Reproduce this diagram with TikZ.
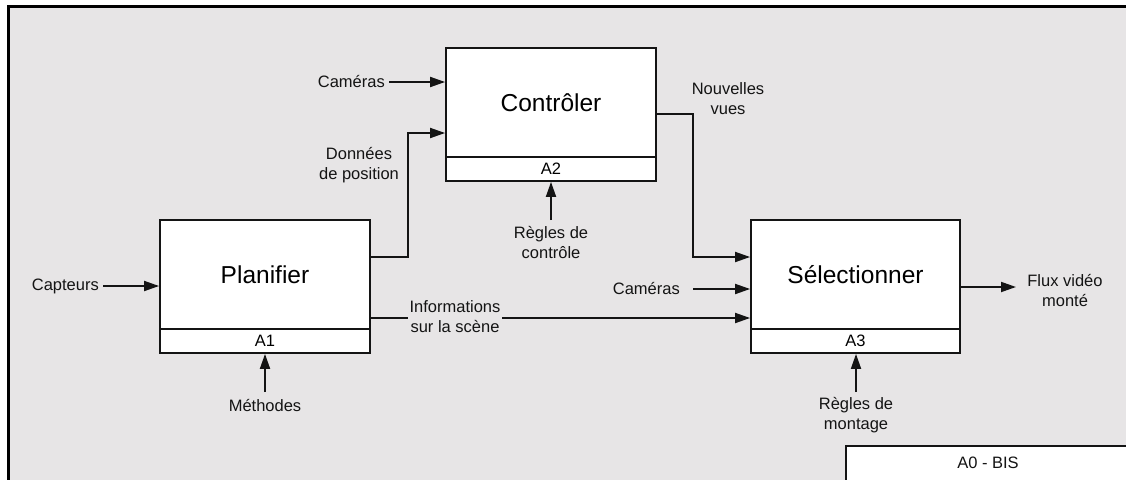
\documentclass[tikz,border=0pt]{standalone}
\usepackage{fontspec}
\setmainfont{Liberation Sans}
\usetikzlibrary{arrows.meta}
\definecolor{panel}{RGB}{231,229,230}
\definecolor{ink}{RGB}{20,20,20}
\tikzset{
  box/.style={draw=ink, line width=1.8pt, fill=white, inner sep=0pt, anchor=center},
  boxtitle/.style={box, font=\fontsize{24.5}{28}\selectfont},
  boxtag/.style={box, font=\fontsize{16.5}{20}\selectfont},
  lbl/.style={inner sep=1pt, align=center, text=ink, font=\fontsize{16.5}{20}\selectfont},
  flow/.style={draw=ink, line width=1.8pt, -{Triangle[length=15pt,width=10pt]}},
  wire/.style={draw=ink, line width=1.8pt}
}
\begin{document}
\begin{tikzpicture}[x=1pt, y=-1pt]
\useasboundingbox (0,0) rectangle (1126,479);
\begin{scope}
\clip (0,0) rectangle (1126,479);
% outer frame
\draw[line width=3pt, fill=panel] (8,6) rectangle (1150,500);
% activity boxes
\node[boxtitle, minimum width=210pt, minimum height=109pt] (p) at (265,274.5) {Planifier};
\node[boxtag, minimum width=210pt, minimum height=24pt] (pa) at (265,341) {A1};
\node[boxtitle, minimum width=210pt, minimum height=109pt] (c) at (551,102.5) {Contrôler};
\node[boxtag, minimum width=210pt, minimum height=24pt] (ca) at (551,169) {A2};
\node[boxtitle, minimum width=209pt, minimum height=109pt] (s) at (855.5,274.5) {Sélectionner};
\node[boxtag, minimum width=209pt, minimum height=24pt] (sa) at (855.5,341) {A3};
% title block
\node[box, line width=1.5pt, minimum width=300pt, minimum height=50pt, anchor=north west] (tb) at (845,445) {};
\node[lbl] (tbt) at (988,463) {A0 - BIS};

% labels
\node[lbl, anchor=east] (capt) at (100,286) {Capteurs};
\node[lbl, anchor=east] (cam1) at (386,82) {Caméras};
\node[lbl] (dpos) at (359,165) {Données\\de position};
\node[lbl] (nv) at (728,99) {Nouvelles\\vues};
\node[lbl] (rc) at (551,243) {Règles de\\contrôle};
\node[lbl, anchor=east] (cam2) at (681,289) {Caméras};
\node[lbl] (meth) at (265,405) {Méthodes};
\node[lbl] (rm) at (856,415) {Règles de\\montage};
\node[lbl] (flux) at (1065,291) {Flux vidéo\\monté};

% connectors
\coordinate (pc1) at (408,257);
\coordinate (pc2) at (408,133);
\coordinate (cs1) at (693,114);
\coordinate (cs2) at (693,257);
\draw[flow] ([xshift=3pt]capt.east) -- (capt -| p.west);
\draw[flow] ([xshift=3pt]cam1.east) -- (cam1 -| c.west);
\draw[flow] (p.east |- pc1) -- (pc1) -- (pc2) -- (c.west |- pc2);
\draw[flow] (c.east |- cs1) -- (cs1) -- (cs2) -- (s.west |- cs2);
\draw[flow] ([xshift=12pt]cam2.east) -- (cam2 -| s.west);
\coordinate (inf) at (370,318);
\draw[flow] (inf) -- (inf -| s.west);
\node[lbl, fill=panel, inner xsep=2pt] (info) at (455,317) {Informations\\sur la scène};
\draw[flow] (rc.north |- 0,220) -- (ca.south);
\draw[flow] (meth.north |- 0,392) -- (pa.south);
\draw[flow] (rm.north |- 0,392) -- (rm.north |- sa.south);
\coordinate (so) at (1016,287);
\draw[flow] (s.east |- so) -- (so);
\end{scope}
\end{tikzpicture}
\end{document}
